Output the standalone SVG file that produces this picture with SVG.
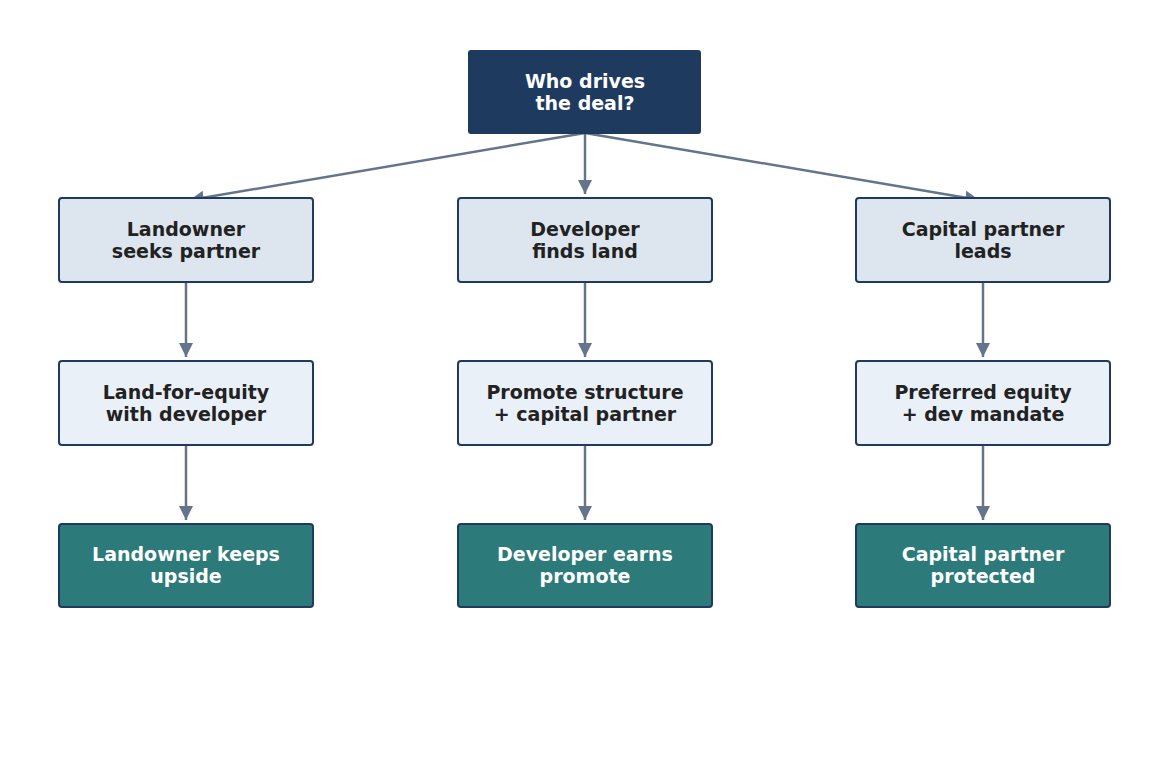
<svg xmlns="http://www.w3.org/2000/svg" width="1169" height="769" viewBox="0 0 1169 769">
<defs>
<marker id="ah" viewBox="0 0 10 10" refX="9" refY="5" markerWidth="6" markerHeight="6" markerUnits="userSpaceOnUse" orient="auto"><path d="M0,0 L10,5 L0,10 z" fill="#64748b"/></marker>
<style>
.b{stroke:#1f3a5f;stroke-width:2}
.l2{fill:#dde6ef}.l3{fill:#eaf0f8}.l4{fill:#2d7a7a}
text{font-family:"DejaVu Sans",sans-serif;font-weight:bold;font-size:19px;text-anchor:middle}
.d{fill:#222}.w{fill:#fff}
.c{stroke:#64748b;stroke-width:2.5;fill:none;marker-end:url(#ah)}
</style>
<marker id="a" viewBox="0 0 10 10" refX="10" refY="5" markerWidth="14" markerHeight="14" markerUnits="userSpaceOnUse" orient="auto"><path d="M0,0 L10,5 L0,10 z" fill="#64748b"/></marker>
</defs>
<rect width="1169" height="769" fill="#fff"/>
<g id="connectors">
<path class="c" style="marker-end:url(#a)" d="M585,133 L190,200"/>
<path class="c" style="marker-end:url(#a)" d="M585,133 L585,194"/>
<path class="c" style="marker-end:url(#a)" d="M585,133 L979,200"/>
<path class="c" style="marker-end:url(#a)" d="M186,282 L186,357"/>
<path class="c" style="marker-end:url(#a)" d="M585,282 L585,357"/>
<path class="c" style="marker-end:url(#a)" d="M983,282 L983,357"/>
<path class="c" style="marker-end:url(#a)" d="M186,445 L186,520"/>
<path class="c" style="marker-end:url(#a)" d="M585,445 L585,520"/>
<path class="c" style="marker-end:url(#a)" d="M983,445 L983,520"/>
</g>
<g id="root"><rect x="468" y="50" width="233" height="84" rx="3" fill="#1f3a5f"/><text class="w" x="585" y="88">Who drives</text><text class="w" x="585" y="110">the deal?</text></g>
<g id="n1"><rect class="b l2" x="59" y="198" width="254" height="84" rx="3"/><text class="d" x="186" y="236">Landowner</text><text class="d" x="186" y="258">seeks partner</text></g>
<g id="n2"><rect class="b l2" x="458" y="198" width="254" height="84" rx="3"/><text class="d" x="585" y="236">Developer</text><text class="d" x="585" y="258">finds land</text></g>
<g id="n3"><rect class="b l2" x="856" y="198" width="254" height="84" rx="3"/><text class="d" x="983" y="236">Capital partner</text><text class="d" x="983" y="258">leads</text></g>
<g id="n4"><rect class="b l3" x="59" y="361" width="254" height="84" rx="3"/><text class="d" x="186" y="399">Land-for-equity</text><text class="d" x="186" y="421">with developer</text></g>
<g id="n5"><rect class="b l3" x="458" y="361" width="254" height="84" rx="3"/><text class="d" x="585" y="399">Promote structure</text><text class="d" x="585" y="421">+ capital partner</text></g>
<g id="n6"><rect class="b l3" x="856" y="361" width="254" height="84" rx="3"/><text class="d" x="983" y="399">Preferred equity</text><text class="d" x="983" y="421">+ dev mandate</text></g>
<g id="n7"><rect class="b l4" x="59" y="524" width="254" height="83" rx="3"/><text class="w" x="186" y="561">Landowner keeps</text><text class="w" x="186" y="583">upside</text></g>
<g id="n8"><rect class="b l4" x="458" y="524" width="254" height="83" rx="3"/><text class="w" x="585" y="561">Developer earns</text><text class="w" x="585" y="583">promote</text></g>
<g id="n9"><rect class="b l4" x="856" y="524" width="254" height="83" rx="3"/><text class="w" x="983" y="561">Capital partner</text><text class="w" x="983" y="583">protected</text></g>
</svg>
